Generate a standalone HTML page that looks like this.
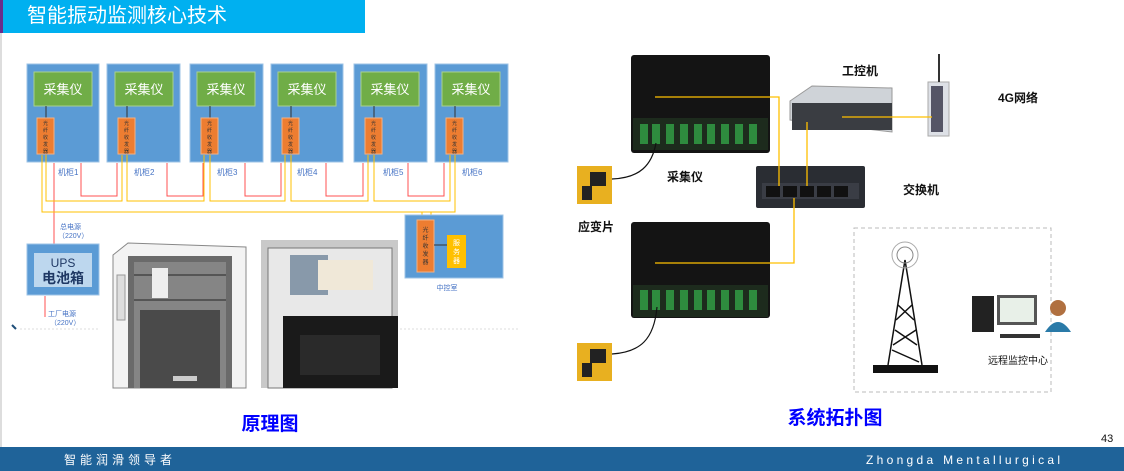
<!DOCTYPE html>
<html><head><meta charset="utf-8"><style>
body{margin:0;width:1124px;height:471px;overflow:hidden;background:#fff;font-family:"Liberation Sans","Noto Sans CJK SC",sans-serif;position:relative}
.a{position:absolute}
</style></head><body>
<div class="a" style="left:0;top:0;width:365px;height:33px;background:#00b0f0"></div>
<div class="a" style="left:0;top:0;width:3px;height:33px;background:#6a2c8c"></div>
<div class="a" style="left:27px;top:3px;color:#fff;font-size:20px;line-height:26px">智能振动监测核心技术</div>
<div class="a" style="left:0;top:33px;width:2px;height:414px;background:#ddd"></div>

<svg class="a" style="left:0;top:0" width="1124" height="471" font-family="Liberation Sans,Noto Sans CJK SC,sans-serif">
<g id="cabs">
<g fill="#5b9bd5" stroke="#9dc3e6" stroke-width="1">
<rect x="27" y="64" width="72" height="98"/><rect x="107" y="64" width="73" height="98"/><rect x="190" y="64" width="73" height="98"/><rect x="271" y="64" width="72" height="98"/><rect x="354" y="64" width="73" height="98"/><rect x="435" y="64" width="73" height="98"/>
</g>
<g fill="#70ad47" stroke="#a9d18e">
<rect x="34" y="72" width="58" height="34"/><rect x="115" y="72" width="58" height="34"/><rect x="197" y="72" width="58" height="34"/><rect x="278" y="72" width="58" height="34"/><rect x="361" y="72" width="58" height="34"/><rect x="442" y="72" width="58" height="34"/>
</g>
<g fill="#fff" font-size="13" text-anchor="middle">
<text x="63" y="94">采集仪</text><text x="144" y="94">采集仪</text><text x="226" y="94">采集仪</text><text x="307" y="94">采集仪</text><text x="390" y="94">采集仪</text><text x="471" y="94">采集仪</text>
</g>
<g stroke="#333" stroke-width="1"><line x1="46" y1="106" x2="46" y2="118"/><line x1="127" y1="106" x2="127" y2="118"/><line x1="210" y1="106" x2="210" y2="118"/><line x1="291" y1="106" x2="291" y2="118"/><line x1="374" y1="106" x2="374" y2="118"/><line x1="455" y1="106" x2="455" y2="118"/></g>
<g fill="#ed7d31" stroke="#f4b183">
<rect x="37" y="118" width="17" height="36"/><rect x="118" y="118" width="17" height="36"/><rect x="201" y="118" width="17" height="36"/><rect x="282" y="118" width="17" height="36"/><rect x="365" y="118" width="17" height="36"/><rect x="446" y="118" width="17" height="36"/>
</g>
<g fill="#333" font-size="5" text-anchor="middle">
<text x="45.5" y="125">光</text><text x="45.5" y="132">纤</text><text x="45.5" y="139">收</text><text x="45.5" y="146">发</text><text x="45.5" y="153">器</text>
<text x="126.5" y="125">光</text><text x="126.5" y="132">纤</text><text x="126.5" y="139">收</text><text x="126.5" y="146">发</text><text x="126.5" y="153">器</text>
<text x="209.5" y="125">光</text><text x="209.5" y="132">纤</text><text x="209.5" y="139">收</text><text x="209.5" y="146">发</text><text x="209.5" y="153">器</text>
<text x="290.5" y="125">光</text><text x="290.5" y="132">纤</text><text x="290.5" y="139">收</text><text x="290.5" y="146">发</text><text x="290.5" y="153">器</text>
<text x="373.5" y="125">光</text><text x="373.5" y="132">纤</text><text x="373.5" y="139">收</text><text x="373.5" y="146">发</text><text x="373.5" y="153">器</text>
<text x="454.5" y="125">光</text><text x="454.5" y="132">纤</text><text x="454.5" y="139">收</text><text x="454.5" y="146">发</text><text x="454.5" y="153">器</text>
</g>
<g fill="#4472c4" font-size="8">
<text x="58" y="175">机柜1</text><text x="134" y="175">机柜2</text><text x="217" y="175">机柜3</text><text x="297" y="175">机柜4</text><text x="383" y="175">机柜5</text><text x="462" y="175">机柜6</text>
</g>
<g fill="none" stroke="#ff5050" stroke-width="1">
<polyline points="81,163 81,196 117,196 117,163"/>
<polyline points="167,163 167,196 203,196 203,163"/>
<polyline points="245,163 245,196 281,196 281,163"/>
<polyline points="326,163 326,196 363,196 363,163"/>
<polyline points="408,163 408,196 444,196 444,163"/>
<line x1="54" y1="163" x2="54" y2="244"/>
<line x1="45" y1="296" x2="45" y2="317"/>
</g>
<g fill="none" stroke="#ffc000" stroke-width="1">
<polyline points="46,155 46,201 122,201 122,155"/>
<polyline points="127,155 127,201 204,201 204,155"/>
<polyline points="210,155 210,201 285,201 285,155"/>
<polyline points="291,155 291,201 368,201 368,155"/>
<polyline points="374,155 374,201 450,201 450,155"/>
<polyline points="42,155 42,212 455,212 455,155"/>
<polyline points="422,212 422,220"/><polyline points="431,212 431,220"/>
</g>
<rect x="405" y="215" width="98" height="63" fill="#5b9bd5" stroke="#9dc3e6"/>
<rect x="417" y="220" width="17" height="52" fill="#ed7d31" stroke="#f4b183"/>
<rect x="447" y="235" width="19" height="33" fill="#ffc000"/>
<line x1="434" y1="245" x2="447" y2="245" stroke="#333"/>
<g fill="#333" font-size="6" text-anchor="middle"><text x="425.5" y="232">光</text><text x="425.5" y="240">纤</text><text x="425.5" y="248">收</text><text x="425.5" y="256">发</text><text x="425.5" y="264">器</text></g>
<g fill="#fff" font-size="7" text-anchor="middle"><text x="456.5" y="245">服</text><text x="456.5" y="254">务</text><text x="456.5" y="263">器</text></g>
<text x="447" y="290" fill="#4472c4" font-size="7" text-anchor="middle">中控室</text>
<text x="60" y="229" fill="#4472c4" font-size="7">总电源</text>
<text x="58" y="238" fill="#4472c4" font-size="7">（220V）</text>
<rect x="27" y="244" width="72" height="51" fill="#5b9bd5" stroke="#9dc3e6"/>
<rect x="34" y="253" width="58" height="34" fill="#bdd7ee"/>
<text x="63" y="267" fill="#1f3864" font-size="12" text-anchor="middle">UPS</text>
<text x="63" y="283" fill="#1f3864" font-size="14" font-weight="bold" text-anchor="middle">电池箱</text>
<text x="48" y="316" fill="#4472c4" font-size="7">工厂电源</text>
<text x="50" y="325" fill="#4472c4" font-size="7">（220V）</text>
<line x1="20" y1="329" x2="100" y2="329" stroke="#ddd" stroke-dasharray="2,2"/>
<line x1="400" y1="329" x2="520" y2="329" stroke="#ddd" stroke-dasharray="2,2"/>
<path d="M12 325 l4 4" stroke="#1f4e79" stroke-width="2"/>
</g>
<g>
<polygon points="113,255 128,243 246,247 246,388 113,388" fill="#f3f3f3" stroke="#888"/>
<rect x="128" y="256" width="104" height="132" fill="#6a6a6a"/>
<rect x="134" y="262" width="92" height="126" fill="#858585"/>
<g stroke="#555" stroke-width="2"><line x1="134" y1="275" x2="226" y2="275"/><line x1="134" y1="300" x2="226" y2="300"/></g>
<rect x="152" y="268" width="16" height="30" fill="#eee"/>
<rect x="117" y="275" width="8" height="45" fill="#ddd" stroke="#999"/>
<rect x="140" y="310" width="80" height="78" fill="#4a4a4a"/>
<rect x="173" y="376" width="24" height="5" fill="#ccc"/>
</g>
<g>
<rect x="261" y="240" width="137" height="148" fill="#c9c9c9"/>
<rect x="268" y="248" width="124" height="140" fill="#e8e8e8" stroke="#777"/>
<rect x="290" y="255" width="38" height="40" fill="#8899aa"/>
<rect x="318" y="260" width="55" height="30" fill="#f0e8d8"/>
<rect x="283" y="316" width="115" height="72" fill="#1a1a1a"/>
<rect x="300" y="335" width="80" height="40" fill="#2a2a2a"/>
</g>

<g>
<rect x="631" y="55" width="139" height="98" rx="3" fill="#141414"/>
<rect x="633" y="118" width="135" height="32" fill="#1d2b1d"/>
<g fill="#2e8b3e"><rect x="640" y="124" width="8" height="20"/><rect x="652" y="124" width="8" height="20"/><rect x="666" y="124" width="8" height="20"/><rect x="680" y="124" width="8" height="20"/><rect x="694" y="124" width="8" height="20"/><rect x="707" y="124" width="8" height="20"/><rect x="721" y="124" width="8" height="20"/><rect x="735" y="124" width="8" height="20"/><rect x="749" y="124" width="8" height="20"/></g>
<rect x="631" y="222" width="139" height="96" rx="3" fill="#141414"/>
<rect x="633" y="285" width="135" height="32" fill="#1d2b1d"/>
<g fill="#2e8b3e"><rect x="640" y="290" width="8" height="20"/><rect x="652" y="290" width="8" height="20"/><rect x="666" y="290" width="8" height="20"/><rect x="680" y="290" width="8" height="20"/><rect x="694" y="290" width="8" height="20"/><rect x="707" y="290" width="8" height="20"/><rect x="721" y="290" width="8" height="20"/><rect x="735" y="290" width="8" height="20"/><rect x="749" y="290" width="8" height="20"/></g>
<rect x="577" y="166" width="35" height="38" fill="#e8b020"/><rect x="590" y="172" width="16" height="14" fill="#222"/><rect x="582" y="186" width="10" height="14" fill="#222"/>
<rect x="577" y="343" width="35" height="38" fill="#e8b020"/><rect x="590" y="349" width="16" height="14" fill="#222"/><rect x="582" y="363" width="10" height="14" fill="#222"/>
<path d="M612 179 C640 178 652 165 656 143" fill="none" stroke="#111" stroke-width="1.2"/>
<path d="M612 354 C640 352 654 340 657 307" fill="none" stroke="#111" stroke-width="1.2"/>
<rect x="756" y="166" width="109" height="42" rx="2" fill="#2a2d33"/>
<rect x="762" y="183" width="97" height="16" fill="#3a3d45"/>
<g fill="#111"><rect x="766" y="186" width="14" height="11"/><rect x="783" y="186" width="14" height="11"/><rect x="800" y="186" width="14" height="11"/><rect x="817" y="186" width="14" height="11"/><rect x="834" y="186" width="14" height="11"/></g>
<polygon points="790,101 812,86 892,88 892,132 790,120" fill="#cfd3d8" stroke="#999"/>
<rect x="792" y="103" width="100" height="27" fill="#3a3d42"/>
<rect x="928" y="82" width="21" height="54" fill="#dde0e6" stroke="#aaa"/>
<rect x="931" y="86" width="12" height="46" fill="#556"/>
<line x1="939" y1="54" x2="939" y2="82" stroke="#333" stroke-width="2"/>
<g fill="none" stroke="#ffc000" stroke-width="1.3">
<polyline points="655,97 779,97 779,186"/>
<polyline points="807,122 807,186"/>
<polyline points="794,198 794,263 655,263"/>
<polyline points="842,117 932,117"/>
</g>
<rect x="854" y="228" width="197" height="164" fill="none" stroke="#bbb" stroke-dasharray="4,3"/>
<g stroke="#111" fill="none" stroke-width="1.5">
<polyline points="888,365 905,260 922,365"/>
<path d="M898 305 L914 320 M912 305 L896 320 M895 330 L917 345 M916 330 L893 345 M892 350 L919 362"/>
<circle cx="905" cy="255" r="8" stroke="#888" stroke-width="1"/>
<circle cx="905" cy="255" r="13" stroke="#aaa" stroke-width="1"/>
</g>
<rect x="873" y="365" width="65" height="8" fill="#111"/>
<rect x="972" y="296" width="22" height="36" fill="#222"/>
<rect x="997" y="295" width="40" height="30" fill="#555"/><rect x="1000" y="298" width="34" height="24" fill="#e8f0e8"/>
<rect x="1000" y="334" width="40" height="4" fill="#333"/>
<circle cx="1058" cy="308" r="8" fill="#b07040"/><path d="M1045 332 q13 -20 26 0z" fill="#2a7aa8"/>
</g>
<g fill="#111" font-size="12" font-weight="bold">
<text x="842" y="75">工控机</text>
<text x="998" y="102">4G网络</text>
<text x="667" y="181">采集仪</text>
<text x="903" y="194">交换机</text>
<text x="578" y="231">应变片</text>
<text x="988" y="364" font-size="10" font-weight="normal">远程监控中心</text>
</g>
<text x="270" y="430" fill="#0000ff" font-size="19" font-weight="bold" text-anchor="middle">原理图</text>
<text x="835" y="424" fill="#0000ff" font-size="19" font-weight="bold" text-anchor="middle">系统拓扑图</text>
<text x="1101" y="442" fill="#111" font-size="11">43</text>
<rect x="0" y="447" width="1124" height="24" fill="#1f6399"/>
<text x="64" y="464" fill="#fff" font-size="12" letter-spacing="4">智能润滑领导者</text>
<text x="866" y="464" fill="#fff" font-size="12" letter-spacing="3.3">Zhongda Mentallurgical</text>
</svg>
</body></html>
